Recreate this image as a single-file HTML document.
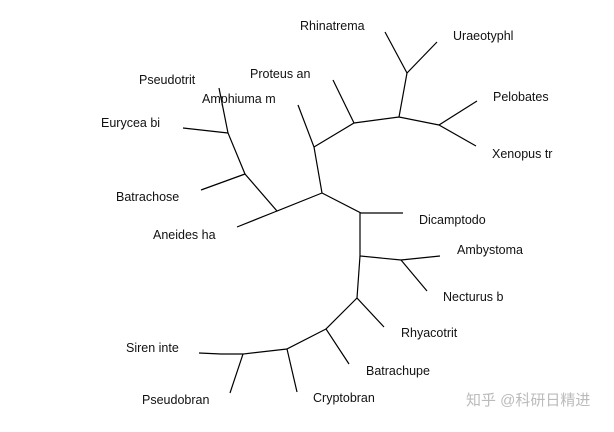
<!DOCTYPE html>
<html><head><style>
html,body{margin:0;padding:0;background:#fff;}
svg text{font-family:"Liberation Sans",Arial,sans-serif;font-size:12.5px;fill:#111;}
</style></head><body>
<svg width="614" height="427" viewBox="0 0 614 427" xmlns="http://www.w3.org/2000/svg">
<g stroke="#000" stroke-width="1.2" fill="none">
<polyline points="385,32 407,73 437,42"/>
<polyline points="407,73 399,117"/>
<polyline points="477,101 439,125 476,146"/>
<polyline points="439,125 399,117 354,123 314,147"/>
<polyline points="333,80 354,123"/>
<polyline points="298,105 314,147 322,193"/>
<polyline points="322,193 361,213 403,213"/>
<polyline points="322,193 277,211 245,174 228,133 219,88"/>
<polyline points="183,128 228,133"/>
<polyline points="201,190 245,174"/>
<polyline points="237,227 277,211"/>
<polyline points="360,213 360,256 401,260 440,256"/>
<polyline points="401,260 427,291"/>
<polyline points="360,256 357,298 384,327"/>
<polyline points="357,298 326,329 349,364"/>
<polyline points="326,329 287,349 297,392"/>
<polyline points="287,349 243,354 230,393"/>
<polyline points="243,354 221,354 199,353"/>
</g>
<text x="300" y="30">Rhinatrema</text>
<text x="453" y="40">Uraeotyphl</text>
<text x="250" y="78">Proteus an</text>
<text x="139" y="84">Pseudotrit</text>
<text x="202" y="103">Amphiuma m</text>
<text x="493" y="101">Pelobates</text>
<text x="101" y="127">Eurycea bi</text>
<text x="492" y="158">Xenopus tr</text>
<text x="116" y="201">Batrachose</text>
<text x="419" y="224">Dicamptodo</text>
<text x="153" y="239">Aneides ha</text>
<text x="457" y="254">Ambystoma</text>
<text x="443" y="301">Necturus b</text>
<text x="401" y="337">Rhyacotrit</text>
<text x="126" y="352">Siren inte</text>
<text x="366" y="375">Batrachupe</text>
<text x="142" y="404">Pseudobran</text>
<text x="313" y="402">Cryptobran</text>
<text x="466" y="405" style="fill:#bbb;font-size:15px;font-family:'Liberation Sans','Noto Sans CJK SC',sans-serif">知乎 @科研日精进</text>
</svg>
</body></html>
